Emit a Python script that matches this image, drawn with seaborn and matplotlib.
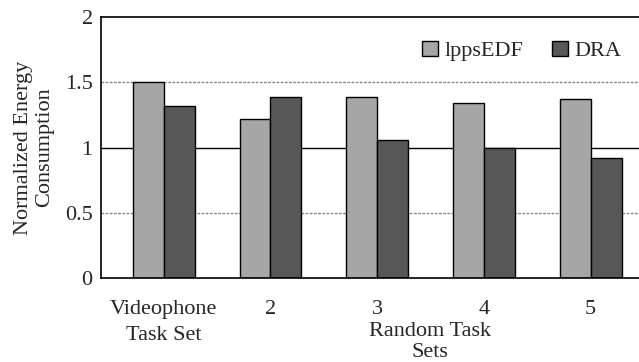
import matplotlib
matplotlib.use("Agg")
import matplotlib.pyplot as plt
import seaborn as sns
import pandas as pd
from matplotlib.patches import Patch

categories = ["Videophone\nTask Set", "2", "3", "4", "5"]
series_names = ["lppsEDF", "DRA"]
lppsedf = [1.50, 1.22, 1.39, 1.34, 1.37]
dra = [1.32, 1.39, 1.06, 1.00, 0.92]
yticks = [0, 0.5, 1, 1.5, 2]
ytick_labels = ["0", "0.5", "1", "1.5", "2"]
colors = ["#a6a6a6", "#575757"]

df = pd.DataFrame({
    "cat": categories * 2,
    "alg": [series_names[0]] * 5 + [series_names[1]] * 5,
    "val": lppsedf + dra,
})

sns.set_theme(style="white")
plt.rcParams["font.family"] = ["Liberation Serif", "DejaVu Serif"]

FS = 16
fig = plt.figure(figsize=(6.39, 3.62), dpi=100)
ax = fig.add_axes([0.158, 0.232, 0.85, 0.721])

ax.axhline(0.5, color="#888888", lw=1.0, ls=(0, (2, 1)), zorder=0)
ax.axhline(1.5, color="#888888", lw=1.0, ls=(0, (2, 1)), zorder=0)
ax.axhline(1.0, color="black", lw=1.0, zorder=0)

sns.barplot(data=df, x="cat", y="val", hue="alg", order=categories,
            hue_order=series_names, palette=colors, width=0.58, gap=0,
            edgecolor="black", linewidth=1.0, saturation=1, ax=ax,
            legend=False, zorder=2)

ax.set_ylim(0, 2)
ax.set_xlim(-0.588, 4.5)
ax.set_yticks(yticks)
ax.set_yticklabels(ytick_labels, fontsize=FS)
ax.tick_params(axis="y", length=0, pad=6)
ax.tick_params(axis="x", length=0, pad=16, labelsize=FS)
for lbl in ax.get_xticklabels():
    lbl.set_linespacing(1.5)
ax.set_xticks([0.5, 1.5, 2.5, 3.5], minor=True)
ax.tick_params(axis="x", which="minor", direction="in", length=5, width=1, color="black")
ax.set_xlabel("")
ax.set_ylabel("Normalized Energy\nConsumption", fontsize=FS, labelpad=8, linespacing=1.1)

for s in ["left", "bottom", "top"]:
    ax.spines[s].set_color("black")
    ax.spines[s].set_linewidth(1.2)
ax.spines["right"].set_visible(False)

fig.text(430 / 639, 1 - 342 / 362, "Random Task\nSets", ha="center", va="center",
         fontsize=FS, linespacing=1.2)

handles = [Patch(facecolor=c, edgecolor="black", linewidth=1.0) for c in colors]
ax.legend(handles, series_names, loc="upper right", bbox_to_anchor=(0.995, 0.985),
          ncol=2, frameon=False, fontsize=FS, handlelength=0.7, handleheight=0.7,
          handletextpad=0.3, columnspacing=1.3)

fig.savefig("out.png", dpi=100)
